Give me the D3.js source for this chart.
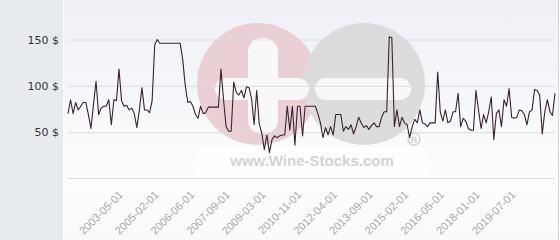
<!DOCTYPE html>
<html>
<head>
<meta charset="utf-8">
<script src="https://cdn.jsdelivr.net/npm/d3@7"></script>
<style>
  body { margin: 0; background: #fff; }
  svg { display: block; }
</style>
</head>
<body>
<div id="chart"></div>
<script>
const width = 560,
    height = 240

const colors = {
    panel: "#e8ebee",
    grid: "#dddddd",
    line: "#3b2230",
    pink: "#eacfd5",
    gray: "#dcdcdc"
}

// price per bottle, one value per quote
const prices = [
    70, 85, 70, 82, 74, 78, 82, 82, 69, 54, 80, 105, 69, 76, 78, 78, 85, 58, 85, 84,
    118, 84, 78, 79, 74, 76, 70, 55, 74, 98, 74, 74,
    71, 84, 144, 150, 146, 146, 146, 146, 146, 146, 146, 146, 146, 128, 100, 82, 83, 78,
    69, 65, 78, 70, 71, 77, 77, 77, 77, 77, 118, 85, 56, 51,
    51, 104, 93, 90, 95, 87, 99, 98, 86, 58, 95, 59, 49, 31, 47, 28, 42, 46, 44, 46,
    47, 47, 78, 52, 78, 36, 78, 78, 46, 78, 78, 78, 78, 78,
    70, 60, 44, 55, 47, 56, 47, 69, 69, 69, 51, 56, 53, 58, 48, 56, 66, 60, 55, 57,
    53, 57, 60, 56, 56, 66, 72, 72, 153, 152,
    56, 74, 56, 66, 60, 58, 44, 56, 64, 60, 74, 60, 59, 56, 60, 60, 60, 115, 72, 62,
    74, 60, 62, 72, 72, 92, 56, 65, 62, 54, 52, 52,
    95, 74, 54, 69, 60, 72, 88, 42, 70, 74, 56, 85, 78, 97, 66, 65, 66, 74, 73, 69,
    58, 72, 74, 96, 95, 90, 48, 72, 85, 72, 68, 92
]

const dateLabels = ["2003-05-01", "2005-02-01", "2006-06-01", "2007-09-01", "2009-03-01", "2010-11-01",
    "2012-04-01", "2013-09-01", "2015-02-01", "2016-05-01", "2018-01-01", "2019-07-01"]
const labelIndex = [22, 36, 50, 64, 78, 92, 106, 120, 134, 148, 162, 176]

const yTicks = [50, 100, 150]

const svg = d3.select("#chart")
    .append("svg")
        .attr("width", width)
        .attr("height", height)

const defs = svg.append("defs")
const grad = defs.append("linearGradient")
    .attr("id", "bg").attr("x1", 0).attr("y1", 0).attr("x2", 0).attr("y2", 1)
grad.append("stop").attr("offset", "0%").attr("stop-color", "#eef0f6")
grad.append("stop").attr("offset", "75%").attr("stop-color", "#fdfdfe")
grad.append("stop").attr("offset", "100%").attr("stop-color", "#fafafa")

// left panel + plot background
svg.append("rect").attr("x", 0).attr("y", 0).attr("width", 63).attr("height", height).attr("fill", colors.panel)
svg.append("rect").attr("x", 64).attr("y", 0).attr("width", 494).attr("height", height).attr("fill", "url(#bg)")
svg.append("line").attr("x1", 558.5).attr("x2", 558.5).attr("y1", 0).attr("y2", height)
    .attr("stroke", "#d6d6d6")

const x = d3.scaleLinear()
    .domain([0, prices.length - 1])
    .range([68, 555])

const y = d3.scaleLinear()
    .domain([0, 150])
    .range([178.5, 39.5])

// watermark
const wm = svg.append("g")
wm.append("circle").attr("cx", 258).attr("cy", 84).attr("r", 61).attr("fill", colors.pink)
wm.append("circle").attr("cx", 364).attr("cy", 84).attr("r", 61).attr("fill", colors.gray)
// plus
wm.append("rect").attr("x", 215).attr("y", 78).attr("width", 94).attr("height", 22).attr("rx", 11)
    .attr("fill", "#f8f8fa")
wm.append("rect").attr("x", 248).attr("y", 38).attr("width", 30).attr("height", 96).attr("rx", 14)
    .attr("fill", "#f8f8fa")
// minus
wm.append("rect").attr("x", 315).attr("y", 78).attr("width", 96).attr("height", 22).attr("rx", 11)
    .attr("fill", "#f8f8fa")
wm.append("rect").attr("x", 197).attr("y", 147).attr("width", 230).attr("height", 27)
    .attr("fill", "#ffffff").attr("opacity", 0.7)
wm.append("text").attr("x", 312).attr("y", 166).attr("text-anchor", "middle")
    .attr("font-family", "Liberation Sans, Arial, sans-serif").attr("font-weight", "bold")
    .attr("font-size", 15).attr("fill", "#d4d4d4")
    .text("www.Wine-Stocks.com")
wm.append("circle").attr("cx", 414).attr("cy", 139).attr("r", 6).attr("fill", "none")
    .attr("stroke", "#d2d2d2").attr("stroke-width", 1.5)
wm.append("text").attr("x", 414).attr("y", 142.5).attr("text-anchor", "middle")
    .attr("font-family", "Liberation Sans, Arial, sans-serif").attr("font-weight", "bold")
    .attr("font-size", 9).attr("fill", "#d2d2d2").text("R")

// y grid + labels
const yAxis = svg.append("g")
    .attr("transform", "translate(68,0)")
    .call(d3.axisLeft(y).tickValues(yTicks).tickSize(-487).tickPadding(9).tickFormat(d => d + " $"))
yAxis.select(".domain").remove()
yAxis.selectAll("line").attr("stroke", colors.grid)
yAxis.selectAll("text")
    .attr("font-family", "DejaVu Sans, Verdana, sans-serif")
    .attr("font-size", 11)
    .attr("fill", "#333")

svg.append("line").attr("x1", 68).attr("x2", 555).attr("y1", y(0)).attr("y2", y(0))
    .attr("stroke", colors.grid)

// x labels
const xAxis = svg.append("g")
    .attr("transform", "translate(0," + y(0) + ")")
    .call(d3.axisBottom(x).tickValues(labelIndex).tickSize(0)
        .tickFormat((d, i) => dateLabels[i]))
xAxis.select(".domain").remove()
xAxis.selectAll("text")
    .attr("y", 0).attr("dy", 0).attr("x", 0)
    .attr("text-anchor", "end")
    .attr("transform", "translate(-1,17) rotate(-45)")
    .attr("font-family", "Liberation Sans, Arial, sans-serif")
    .attr("font-size", 11)
    .attr("fill", "#a8a8a8")

// price line
const line = d3.line()
    .x((d, i) => x(i))
    .y(d => y(d))

svg.append("path")
    .datum(prices)
    .attr("d", line)
    .attr("fill", "none")
    .attr("stroke", colors.line)
    .attr("stroke-width", 1.1)
    .attr("stroke-linejoin", "round")
</script>
</body>
</html>
